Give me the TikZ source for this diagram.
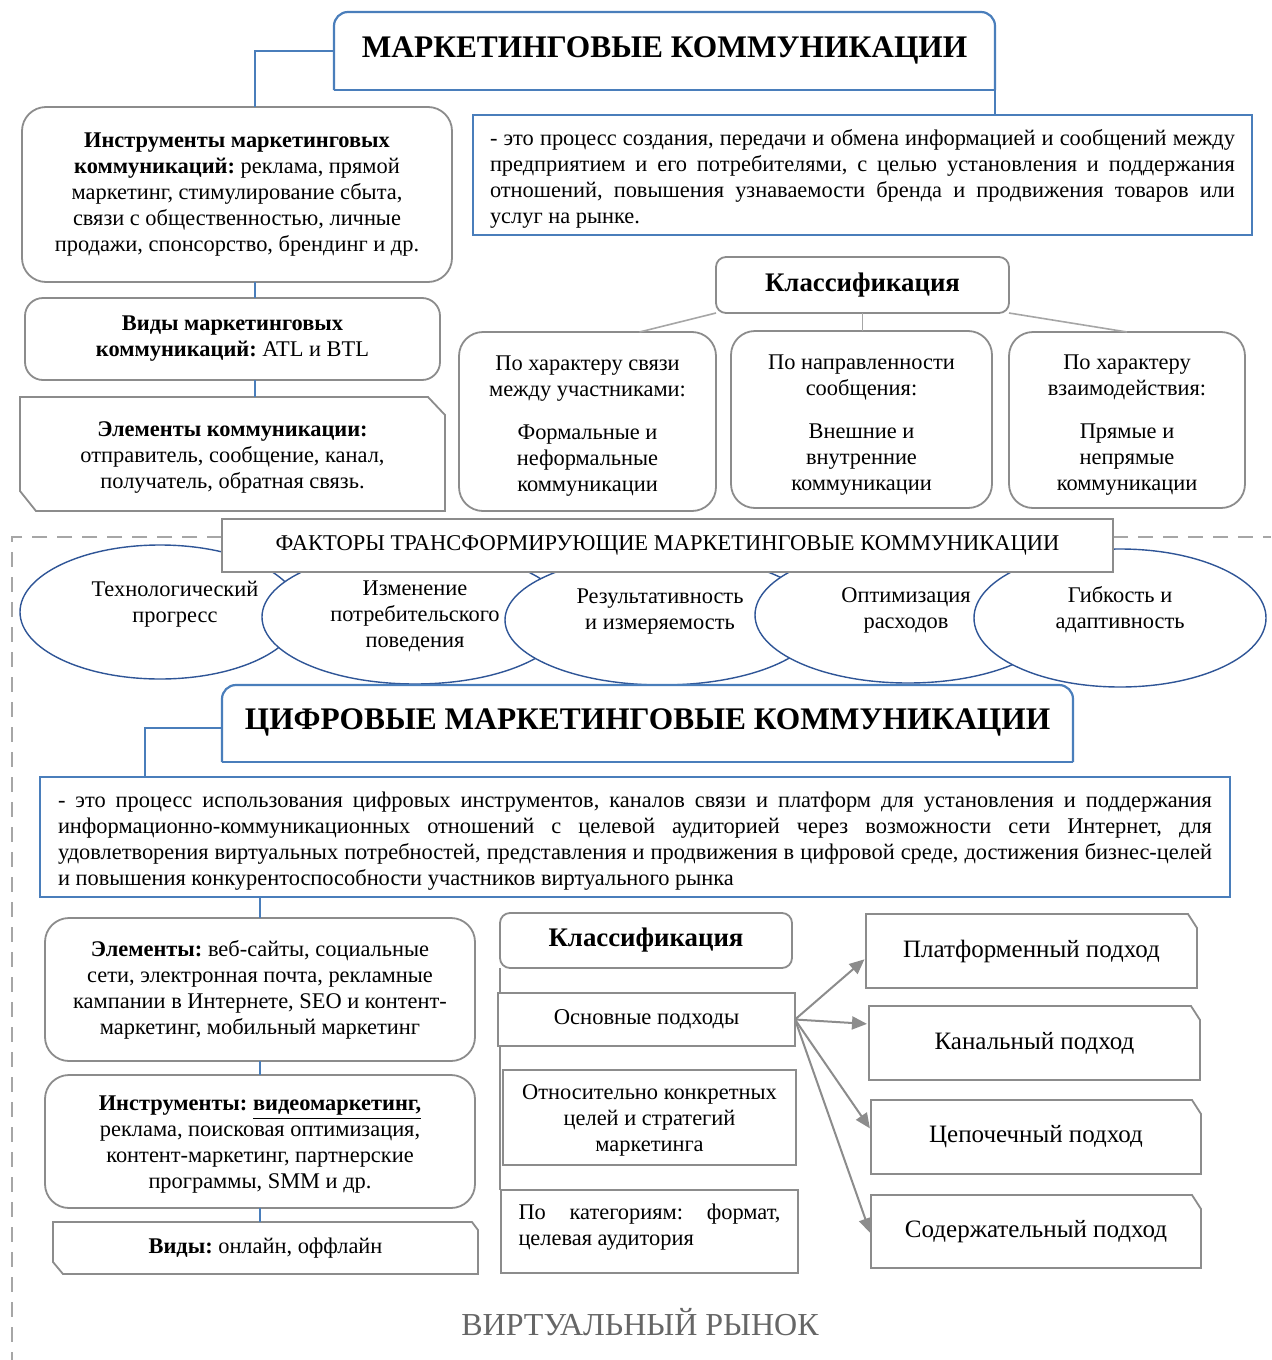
\documentclass[tikz,border=0pt]{standalone}
\usepackage{fontspec}
\setmainfont{Liberation Serif}
\usetikzlibrary{shapes.geometric,arrows.meta}
\hyphenpenalty=10000
\exhyphenpenalty=10000
\frenchspacing
\definecolor{bl}{HTML}{4A7EBB}
\definecolor{dbl}{HTML}{2F5597}
\definecolor{gr}{HTML}{8C8C8C}
\definecolor{lgr}{HTML}{A6A6A6}
\definecolor{vtxt}{HTML}{666666}
\newcommand\upstrut[1]{\rule{0pt}{#1}}
\tikzset{
 base/.style={inner sep=0pt, outer sep=0pt},
 txt/.style={font=\fontsize{11.2}{13}\selectfont, align=center},
 gbox/.style={base, txt, draw=gr, line width=0.9pt, fill=white},
 rbox/.style={gbox, rounded corners=12pt},
 defbox/.style={base, draw=bl, line width=1.4pt, fill=white, font=\fontsize{11.2}{13}\selectfont, align=justify},
 ell/.style={base, ellipse, draw=dbl, line width=0.7pt, fill=white},
 etext/.style={base, txt},
 bline/.style={draw=bl, line width=1pt},
 cline/.style={draw=lgr, line width=0.8pt},
 garrow/.style={draw=gr, line width=1pt, -{Triangle[length=7.5pt,width=6.5pt]}, shorten >=1pt},
 dsh/.style={draw=lgr, line width=1pt, dash pattern=on 7.5pt off 5pt},
 ttl/.style={base, font=\fontsize{15.7}{19}\selectfont\bfseries},
 shp/.style={base},
 edge/.style={draw=gr, line width=0.9pt},
 kfont/.style={font=\fontsize{13.4}{15}\selectfont\bfseries},
 rfont/.style={font=\fontsize{12.5}{14}\selectfont},
}
\begin{document}
\begin{tikzpicture}[x=0.5pt,y=-0.5pt]
\fill[white] (0,0) rectangle (1271,1360);
\useasboundingbox (0,0) rectangle (1271,1360);

% ---------- top title ----------
\node[shp, fill=white, rounded corners=7pt, minimum width=330.5pt, minimum height=39pt] (t) at (664.5,51) {};
\draw[bl, line width=1.1pt, rounded corners=7pt] (t.south west) -- (t.north west) -- (t.north east) -- (t.south east);
\draw[bl, line width=1.1pt] (t.south west) -- (t.south east);
\node[ttl] (tt) at (664.5,50) {МАРКЕТИНГОВЫЕ КОММУНИКАЦИИ};

% definition 1
\node[defbox, text width=372.5pt, minimum width=389.5pt, minimum height=60pt] (def1) at (862.5,175)
 {\upstrut{11.5pt}- это процесс создания, передачи и обмена информацией и сообщений между\linebreak предприятием и его потребителями, с целью установления и поддержания\linebreak отношений, повышения узнаваемости бренда и продвижения товаров или\linebreak услуг на рынке.};

% left column
\node[rbox, minimum width=215pt, minimum height=87.5pt] (instr) at (237,194.5)
 {\textbf{Инструменты маркетинговых}\\ \textbf{коммуникаций:} реклама, прямой\\ маркетинг, стимулирование сбыта,\\ связи с общественностью, личные\\ продажи, спонсорство, брендинг и др.};
\node[rbox, rounded corners=9pt, minimum width=207.5pt, minimum height=41pt] (vidy) at (232.5,339)
 {\textbf{Виды маркетинговых}\\ \textbf{коммуникаций:} ATL и BTL};
\node[base, txt, minimum width=212.5pt, minimum height=57pt] (elk) at (232.5,454)
 {\upstrut{10.5pt}\textbf{Элементы коммуникации:}\\ отправитель, сообщение, канал,\\ получатель, обратная связь.};
\draw[edge] (elk.north west) -- ([xshift=-8.5pt]elk.north east) -- ([yshift=-9pt]elk.north east) -- (elk.south east) -- ([xshift=8pt]elk.south west) -- ([yshift=10pt]elk.south west) -- cycle;

\draw[bline] (t.west) -| ([xshift=9pt]instr.north);
\draw[bline] (t.south east) -- (t.south east |- def1.north);
\draw[bline] ([xshift=9pt]instr.south) -- ([xshift=9pt]instr.south |- vidy.north);
\draw[bline] ([xshift=11.25pt]vidy.south) -- ([xshift=11.25pt]vidy.south |- elk.north);

% classification (top)
\node[gbox, kfont, rounded corners=5pt, minimum width=146.5pt, minimum height=28pt] (kl) at (862.5,285) {Классификация};
\node[rbox, minimum width=128.5pt, minimum height=89.5pt] (ca) at (587.5,421.5)
 {\upstrut{12pt}По характеру связи\\ между участниками:\\[8.5pt] Формальные и\\ неформальные\\ коммуникации};
\node[rbox, minimum width=130.5pt, minimum height=88.5pt] (cb) at (861.5,419.5)
 {\upstrut{12.5pt}По направленности\\ сообщения:\\[8.5pt] Внешние и\\ внутренние\\ коммуникации};
\node[rbox, minimum width=118pt, minimum height=88pt] (cc) at (1127,420)
 {\upstrut{12pt}По характеру\\ взаимодействия:\\[8.5pt] Прямые и\\ непрямые\\ коммуникации};
\draw[cline] (kl.south west) -- ([xshift=26pt]ca.north);
\draw[cline] (kl.south) -- (kl.south |- cb.north);
\draw[cline] (kl.south east) -- (cc.north);

% dashed region border
\draw[dsh] (222,537) -- (12,537) -- (12,1360);
\draw[dsh] (1113,537) -- (1271,537);

% ellipses
\node[ell, minimum width=140pt, minimum height=67pt] (e1) at (160,612) {};
\node[etext] (e1t) at (175,604) {Технологический\\ прогресс};
\node[ell, minimum width=153pt, minimum height=67pt] (e2) at (415,617) {};
\node[etext] (e2t) at (415,616) {Изменение\\ потребительского\\ поведения};
\node[ell, minimum width=157pt, minimum height=65pt] (e3) at (662,620) {};
\node[etext] (e3t) at (660,612) {Результативность\\ и измеряемость};
\node[ell, minimum width=153pt, minimum height=68pt] (e4) at (908,615) {};
\node[etext] (e4t) at (906,610) {Оптимизация\\ расходов};
\node[ell, minimum width=146pt, minimum height=69pt] (e5) at (1120,618) {};
\node[etext] (e5t) at (1120,610) {Гибкость и\\ адаптивность};

\node[base, draw=gr, line width=1.1pt, fill=white, minimum width=445.5pt, minimum height=26.5pt, font=\fontsize{11.25}{13}\selectfont] (fak) at (667.5,545.5)
 {ФАКТОРЫ ТРАНСФОРМИРУЮЩИЕ МАРКЕТИНГОВЫЕ КОММУНИКАЦИИ};

% ---------- digital title ----------
\node[shp, fill=white, rounded corners=7pt, minimum width=425.5pt, minimum height=38.5pt] (dt) at (647.5,723.5) {};
\draw[bl, line width=1.1pt, rounded corners=7pt] (dt.south west) -- (dt.north west) -- (dt.north east) -- (dt.south east);
\draw[bl, line width=1.1pt] (dt.south west) -- (dt.south east);
\node[ttl] (dtt) at (647.5,722) {ЦИФРОВЫЕ МАРКЕТИНГОВЫЕ КОММУНИКАЦИИ};

\node[defbox, text width=577pt, minimum width=595pt, minimum height=60pt] (def2) at (635,837)
 {\upstrut{11.5pt}- это процесс использования цифровых инструментов, каналов связи и платформ для установления и поддержания\linebreak информационно-коммуникационных отношений с целевой аудиторией через возможности сети Интернет, для\linebreak удовлетворения виртуальных потребностей, представления и продвижения в цифровой среде, достижения бизнес-целей\linebreak и повышения конкурентоспособности участников виртуального рынка};
\draw[bline] ([yshift=-2pt]dt.west) -| ([xshift=-245pt]def2.north);

% left column bottom
\node[rbox, minimum width=215pt, minimum height=71.5pt] (el2) at (260,989.5)
 {\textbf{Элементы:} веб-сайты, социальные\\ сети, электронная почта, рекламные\\ кампании в Интернете, SEO и контент-\\ маркетинг, мобильный маркетинг};
\node[rbox, minimum width=215pt, minimum height=66.5pt] (ins2) at (260,1141.5)
 {\upstrut{10.5pt}\textbf{Инструменты: \underline{видеомаркетинг,}}\\ реклама, поисковая оптимизация,\\ контент-маркетинг, партнерские\\ программы, SMM и др.};
\node[base, txt, minimum width=212.5pt, minimum height=26pt] (vid2) at (265.5,1248) {\textbf{Виды:} онлайн, оффлайн};
\draw[edge] (vid2.north west) -- ([xshift=-3pt]vid2.north east) -- ([yshift=-4pt]vid2.north east) -- (vid2.south east) -- ([xshift=5pt]vid2.south west) -- ([yshift=6pt]vid2.south west) -- cycle;
\draw[bline] (el2.north |- def2.south) -- (el2.north);
\draw[bline] (el2.south) -- (ins2.north);
\draw[bline] (ins2.south) -- (ins2.south |- vid2.north);

% classification (bottom)
\node[gbox, kfont, rounded corners=5pt, minimum width=146pt, minimum height=27.5pt] (kl2) at (646,940.5) {Классификация};
\node[base, minimum width=148.5pt, minimum height=41.5pt] (pkpos) at (649.5,1231.5) {};
\draw[edge] (kl2.south west) -- (kl2.south west |- pkpos.north);
\node[gbox, font=\fontsize{11.3}{13}\selectfont, minimum width=148.5pt, minimum height=26.5pt] (osn) at (646.5,1019.5) {Основные подходы};
\node[gbox, font=\fontsize{11.2}{13}\selectfont, minimum width=146.5pt, minimum height=47.5pt] (oth) at (649.5,1117.5) {\upstrut{10.5pt}Относительно конкретных\\ целей и стратегий\\ маркетинга};
\node[gbox, font=\fontsize{11.2}{13}\selectfont, align=justify, text width=131pt, minimum width=148.5pt, minimum height=41.5pt] (pk) at (649.5,1231.5) {По категориям: формат,\linebreak целевая аудитория\rule[-6.5pt]{0pt}{1pt}};

% right boxes
\node[base, rfont, minimum width=165.5pt, minimum height=37pt] (plat) at (1031.5,951) {Платформенный подход};
\node[base, rfont, minimum width=165.5pt, minimum height=37pt] (kan) at (1034.5,1043) {Канальный подход};
\node[base, rfont, minimum width=165pt, minimum height=37pt] (cep) at (1036,1137) {Цепочечный подход};
\node[base, rfont, minimum width=165pt, minimum height=36.5pt] (sod) at (1036,1231.5) {Содержательный подход};
\foreach \n in {plat,kan,cep,sod}{
 \draw[edge] (\n.north west) -- ([xshift=-4.5pt]\n.north east) -- ([yshift=-7pt]\n.north east) -- (\n.south east) -- (\n.south west) -- cycle;
}
\draw[garrow] (osn.east) -- ([yshift=-3.5pt]plat.west);
\draw[garrow] (osn.east) -- ([yshift=9.5pt]kan.west);
\draw[garrow] (osn.east) -- ([yshift=3.5pt]cep.west);
\draw[garrow] (osn.east) -- ([yshift=-1.75pt]sod.west);

\node[base, font=\fontsize{16}{18}\selectfont, text=vtxt] (vr) at (640,1322) {ВИРТУАЛЬНЫЙ РЫНОК};
\end{tikzpicture}
\end{document}
